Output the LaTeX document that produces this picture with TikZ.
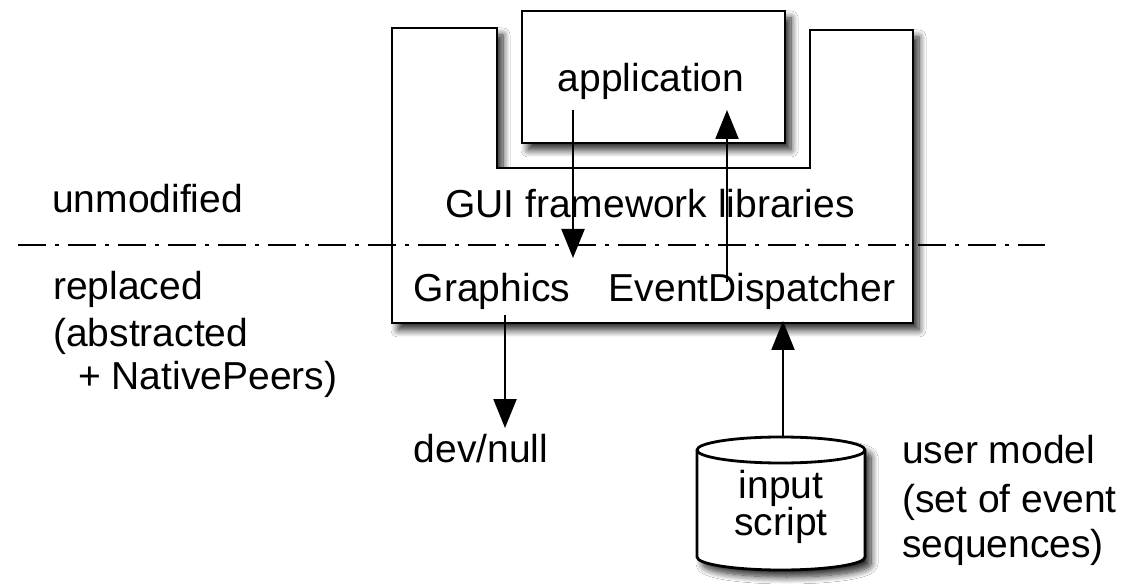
\documentclass[tikz,border=0pt]{standalone}
\usepackage{fontspec}
\setmainfont{Liberation Sans}
\usetikzlibrary{arrows.meta,shadows.blur}
\begin{document}
\begin{tikzpicture}[x=1pt,y=1pt,
  box/.style={draw=black, line width=2.8pt, fill=white,
    blur shadow={shadow xshift=6pt, shadow yshift=-7pt, shadow blur radius=7pt, shadow blur steps=10, shadow opacity=85}},
  arr/.style={draw=black, line width=2.3pt, -{Triangle[length=29pt,width=23pt,fill=black]}},
  txt/.style={font=\fontsize{39}{45}\selectfont, inner sep=0pt, text=black},
  sep/.style={draw=black, line width=2.6pt, dash pattern=on 28pt off 9pt on 4pt off 9pt}]
\useasboundingbox (0,0) rectangle (1129,584);
\fill[white] (0,0) rectangle (1129,584);
% GUI framework frame (U shape)
\begin{scope}
\draw[box] (392,556) -- (497,556) -- (497,416) -- (810,416) -- (810,554)
  -- (913,554) -- (913,261) -- (392,261) -- cycle;
\end{scope}
% application box
\begin{scope}
\draw[box] (522,441) rectangle (785,573);
\end{scope}
% cylinder
\begin{scope}
\draw[box] (697,134) -- (697,27) arc[start angle=180,end angle=360,x radius=84pt,y radius=13pt]
  -- (865,134) arc[start angle=0,end angle=180,x radius=84pt,y radius=13pt] -- cycle;
\end{scope}
\draw[line width=2.8pt] (697,134) arc[start angle=180,end angle=360,x radius=84pt,y radius=13pt];
% separator line
\coordinate (dl) at (18,339);
\coordinate (dr) at (1045,339);
\draw[sep] (dl) -- (dr);
% arrows
\coordinate (d1) at (573,474);
\coordinate (d2) at (573,326);
\coordinate (u1) at (727,302);
\coordinate (u2) at (727,474);
\coordinate (g1) at (505,269);
\coordinate (g2) at (505,156);
\coordinate (i1) at (783,147);
\coordinate (i2) at (783,263);
\draw[arr] (d1) -- (d2);
\draw[arr] (u1) -- (u2);
\draw[arr] (g1) -- (g2);
\draw[arr] (i1) -- (i2);
% texts
\node[txt, anchor=base] (app) at (651,492) {application};
\node[txt, anchor=base] (gui) at (650,366) {GUI framework libraries};
\node[txt, anchor=base] (gfx) at (492,282) {Graphics};
\node[txt, anchor=base] (evd) at (752,282) {EventDispatcher};
\node[txt, anchor=base west] (unmod) at (52,371) {unmodified};
\node[txt, anchor=base west] (repl1) at (53,284) {replaced};
\node[txt, anchor=base west] (repl2) at (53,237) {(abstracted};
\node[txt, anchor=base west] (repl3) at (78,194) {+ NativePeers)};
\node[txt, anchor=base] (dev) at (481,122) {dev/null};
\node[txt, anchor=base west] (user1) at (902,121) {user model};
\node[txt, anchor=base west] (user2) at (902,72) {(set of event};
\node[txt, anchor=base west] (user3) at (902,27) {sequences)};
\node[txt, anchor=base] (inp1) at (781,86) {input};
\node[txt, anchor=base] (inp2) at (781,49) {script};
\end{tikzpicture}
\end{document}
